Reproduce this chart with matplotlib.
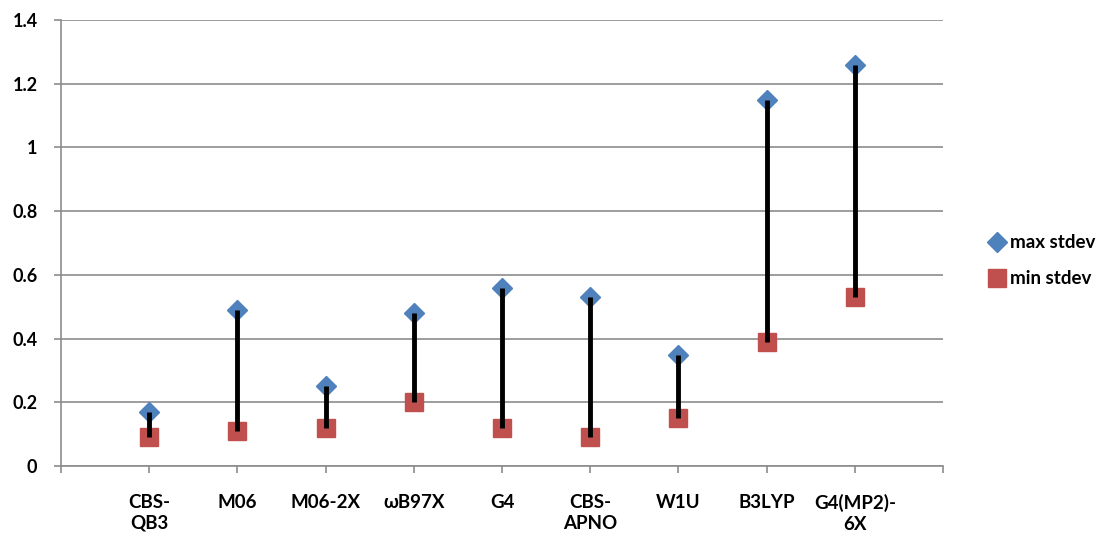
import matplotlib.pyplot as plt
import numpy as np

methods = ["CBS-\nQB3", "M06", "M06-2X", "ωB97X", "G4", "CBS-\nAPNO", "W1U", "B3LYP", "G4(MP2)-\n6X"]
max_stdev = [0.17, 0.49, 0.25, 0.48, 0.56, 0.53, 0.35, 1.15, 1.26]
min_stdev = [0.09, 0.11, 0.12, 0.20, 0.12, 0.09, 0.15, 0.39, 0.53]

plt.rcParams['font.family'] = ['Lato', 'DejaVu Sans']
plt.rcParams['font.weight'] = 'bold'

grid_col = "#8c8c8c"
blue = "#4F81BD"
red = "#C0504D"

fig = plt.figure(figsize=(11.04, 5.41), dpi=100)
ax = fig.add_axes([0.0553, 0.1386, 0.7989, 0.8244])

x = np.arange(1, len(methods) + 1)

# high-low bars from min to max, markers on both ends
ax.vlines(x, min_stdev, max_stdev, color="black", linewidth=3.5, zorder=4)
ax.plot(x, max_stdev, linestyle="none", marker="D", markersize=10,
        color=blue, label="max stdev", zorder=3)
ax.plot(x, min_stdev, linestyle="none", marker="s", markersize=12.5,
        color=red, label="min stdev", zorder=3)

ax.set_xlim(0, len(methods) + 1)
ax.set_ylim(0, 1.4)
ax.set_yticks(np.arange(0, 1.41, 0.2))
ax.set_yticklabels(["0", "0.2", "0.4", "0.6", "0.8", "1", "1.2", "1.4"])
ax.set_xticks(np.arange(0, len(methods) + 2))
ax.set_xticklabels([""] + methods + [""])

ax.yaxis.grid(True, color=grid_col, linewidth=1.2)
ax.set_axisbelow(True)
for side in ["top", "right"]:
    ax.spines[side].set_visible(False)
for side in ["left", "bottom"]:
    ax.spines[side].set_color(grid_col)
    ax.spines[side].set_linewidth(1.2)

ax.tick_params(axis="y", length=5, width=1.2, color=grid_col, pad=12, labelsize=13)
ax.tick_params(axis="x", length=5, width=1.2, color=grid_col, pad=15, labelsize=13.5)
for lbl in ax.get_xticklabels():
    lbl.set_linespacing(1.3)

fig.legend(loc="center left", bbox_to_anchor=(0.879, 0.518), frameon=False,
           fontsize=13.5, handletextpad=0.2, labelspacing=1.0,
           handlelength=1.0, numpoints=1)

fig.savefig("out.png", dpi=100)
